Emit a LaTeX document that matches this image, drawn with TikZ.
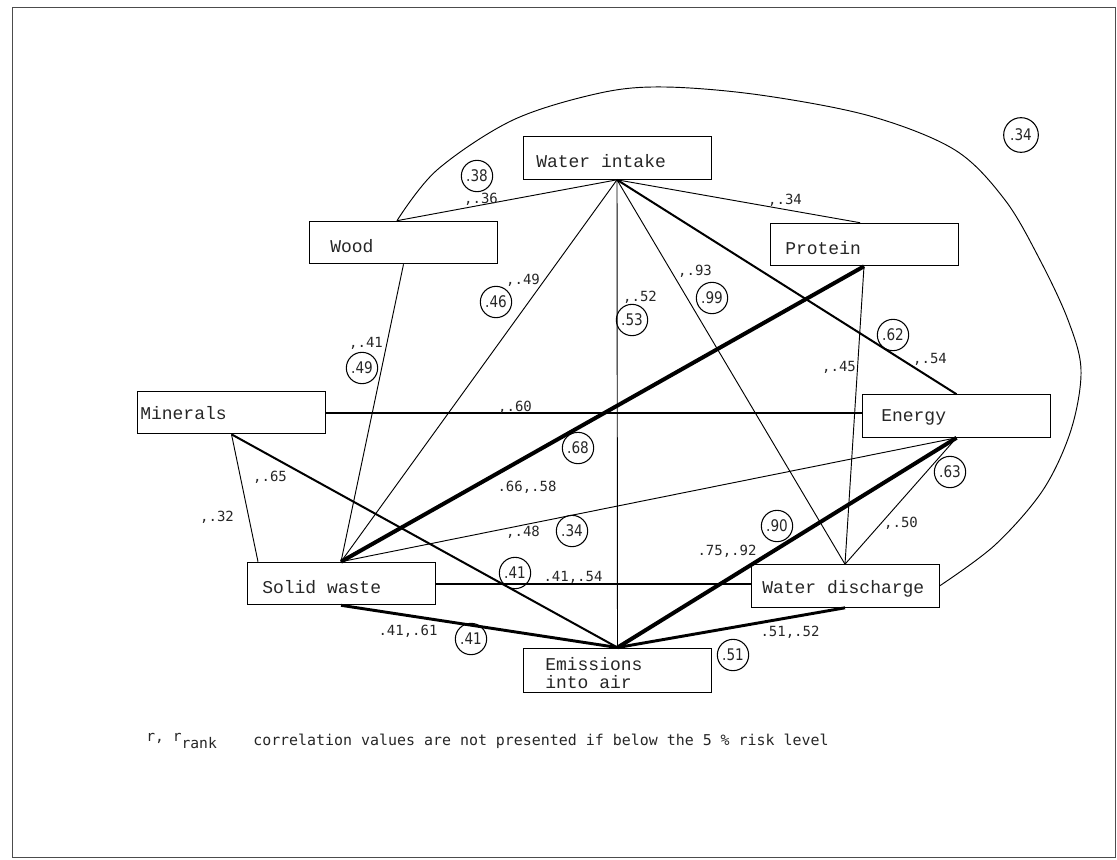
\documentclass[tikz,border=0pt]{standalone}
\usepackage{fontspec}
\newfontfamily\boxfont{Liberation Mono}
\newfontfamily\numfont{DejaVu Sans Mono}
\newfontfamily\circfont[FakeStretch=0.85]{DejaVu Sans}
\tikzset{
  box/.style={draw, line width=0.7pt, minimum width=141pt, minimum height=32pt, inner sep=0pt},
  boxtxt/.style={anchor=west, inner sep=0pt, text=black!85, font=\boxfont\fontsize{13.5}{13.5}\selectfont},
  num/.style={inner sep=0pt, text=black!85, font=\numfont\fontsize{10.5}{12}\selectfont},
  circ/.style={circle, draw, line width=0.8pt, minimum size=23.5pt, inner sep=0pt, text=black!85, font=\circfont\fontsize{12}{13}\selectfont},
  lthin/.style={line width=0.7pt},
  lmed/.style={line width=1.5pt},
  lthk/.style={line width=2.2pt},
  lvthk/.style={line width=3pt},
}
\begin{document}
\begin{tikzpicture}[x=0.75pt, y=-0.75pt]
\useasboundingbox (0,0) rectangle (1117,860);
\draw[line width=0.6pt, black!70] (12,7) rectangle (1115,857);

% boxes
\node[box] (wi)   at (617,158)   {};
\node[box] (wood) at (403.5,242.5) {};
\node[box] (prot) at (864,244.5) {};
\node[box] (min)  at (231.5,412.5) {};
\node[box] (en)   at (956.5,416) {};
\node[box] (sw)   at (341,583.5) {};
\node[box] (wd)   at (845,586)   {};
\node[box, minimum height=33pt] (em) at (617.5,670) {};

% box texts
\node[boxtxt] (wit)   at (536,161) {Water intake};
\node[boxtxt] (woodt) at (330,246) {Wood};
\node[boxtxt] (prott) at (785,248) {Protein};
\node[boxtxt] (mint)  at (140,413) {Minerals};
\node[boxtxt] (ent)   at (881,417) {Energy};
\node[boxtxt] (swt)   at (262,587) {Solid waste};
\node[boxtxt] (wdt)   at (762,589) {Water discharge};
\node[boxtxt, align=left] (emt) at (545,673) {Emissions\\into air};

% hub coordinates
\coordinate (woodtop) at ([xshift=-4.9pt]wood.north);
\coordinate (prottop) at ([xshift=-3pt]prot.north);
\coordinate (swtop)   at ([xshift=-62.25pt]sw.north);

% connectors
\draw[lthin] (woodtop) -- (wi.south);
\draw[lthin] (wi.south) -- (prottop);
\draw[lthin] (wi.south) -- (sw.north);
\draw[lthin] (wi.south) -- (em.north);
\draw[lthin] (wi.south) -- (wd.north);
\draw[lmed]  (wi.south) -- (en.north);
\draw[lthin] (wood.south) -- (sw.north);
\draw[lvthk] (prot.south) -- (sw.north);
\draw[lthin] (prot.south) -- (wd.north);
\draw[lmed]  (min.east) -- (min.east -| en.west);
\draw[lthin] (min.south) -- (swtop);
\draw[lmed]  (min.south) -- (em.north);
\draw[lthin] (sw.north) -- (en.south);
\draw[lmed]  (sw.east) -- (sw.east -| wd.west);
\draw[lthk]  (sw.south) -- (em.north);
\draw[lvthk] (en.south) -- (em.north);
\draw[lthin] (en.south) -- (wd.north);
\draw[lthk]  (wd.south) -- (em.north);
\draw[lthin] plot[smooth, tension=0.55] coordinates {(woodtop) (437,170) (513,120) (600,93) (665,87) (760,95) (870,116) (955,150) (1005,200) (1040,260) (1068,320) (1081,370) (1071,430) (1043,490) (995,545) (wd.east)};

% number labels
\node[num] (n1)  at (481,199) {,.36};
\node[num] (n2)  at (785,200) {,.34};
\node[num] (n3)  at (523,280) {,.49};
\node[num] (n4)  at (640,297) {,.52};
\node[num] (n5)  at (695,271) {,.93};
\node[num] (n6)  at (930,359) {,.54};
\node[num] (n7)  at (839,367) {,.45};
\node[num] (n8)  at (366,343) {,.41};
\node[num] (n9)  at (515,407) {,.60};
\node[num] (n10) at (270,477) {,.65};
\node[num] (n11) at (217,517) {,.32};
\node[num] (n12) at (527,487) {.66,.58};
\node[num] (n13) at (523,532) {,.48};
\node[num] (n14) at (573,577) {.41,.54};
\node[num] (n15) at (727,551) {.75,.92};
\node[num] (n16) at (901,523) {,.50};
\node[num] (n17) at (408,631) {.41,.61};
\node[num] (n18) at (790,632) {.51,.52};

% circled values
\node[circ] (c1)  at (477,176) {.38};
\node[circ] (c2)  at (496,302) {.46};
\node[circ] (c3)  at (632,320) {.53};
\node[circ] (c4)  at (712,298) {.99};
\node[circ] (c5)  at (893,335) {.62};
\node[circ] (c6)  at (362,368) {.49};
\node[circ] (c7)  at (578,448) {.68};
\node[circ] (c8)  at (572,531) {.34};
\node[circ] (c9)  at (515,573) {.41};
\node[circ] (c10) at (777,526) {.90};
\node[circ] (c11) at (950,472) {.63};
\node[circ] (c12) at (471,639) {.41};
\node[circ] (c13) at (733,655) {.51};
\node[circ, minimum size=26pt] (c14) at (1021,135) {.34};

% footnote
\node[num, anchor=west, font=\numfont\fontsize{11}{12}\selectfont] (f1) at (146,741) {r, r\raisebox{-5pt}{rank}};
\node[num, anchor=west, font=\numfont\fontsize{11.2}{12}\selectfont] (f2) at (253,741) {correlation values are not presented if below the 5 \% risk level};
\end{tikzpicture}
\end{document}
